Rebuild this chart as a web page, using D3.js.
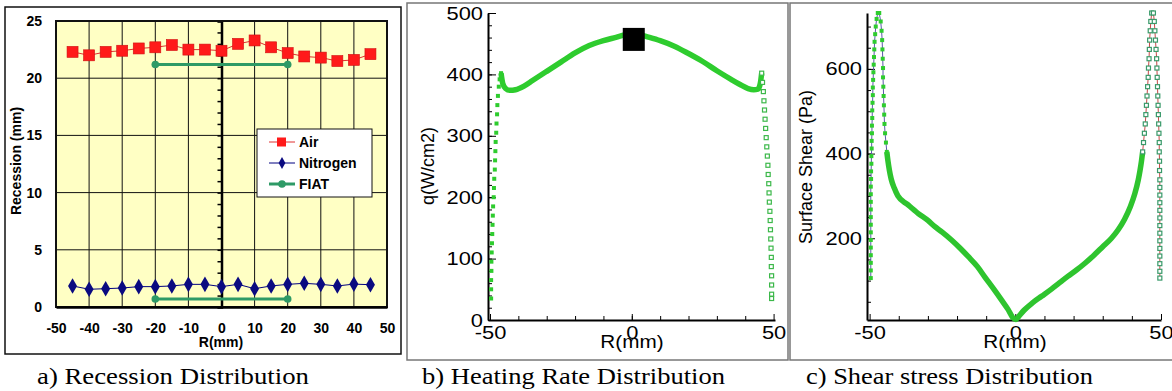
<!DOCTYPE html>
<html>
<head>
<meta charset="utf-8">
<script src="https://cdn.jsdelivr.net/npm/d3@7"></script>
<style>
  body { margin: 0; background: #fff; }
  svg { display: block; }
</style>
</head>
<body>
<svg></svg>
<script>
// ---- panel a: recession ----
const radius = [-45, -40, -35, -30, -25, -20, -15, -10, -5, 0, 5, 10, 15, 20, 25, 30, 35, 40, 45];
const airRecession = [22.3, 22.0, 22.3, 22.4, 22.6, 22.7, 22.9, 22.5, 22.5, 22.4, 23.0, 23.3, 22.7, 22.2, 21.9, 21.8, 21.5, 21.6, 22.1];
const nitrogenRecession = [1.84, 1.55, 1.6, 1.66, 1.78, 1.78, 1.84, 1.98, 1.98, 1.78, 1.98, 1.6, 1.84, 1.98, 2.07, 1.98, 1.84, 2.0, 1.95];
const fiatRadius = [-20, 20];
const fiatTop = [21.2, 21.2];
const fiatBottom = [0.7, 0.7];
const recessionTicks = [0, 5, 10, 15, 20, 25];
const radiusTicks = [-50, -40, -30, -20, -10, 0, 10, 20, 30, 40, 50];

// ---- panel b: heating rate [R mm, q W/cm2] ----
const heatLeftSpike = [[-49.6,35],[-49.6,50],[-49.6,65],[-49.5,80],[-49.5,95],[-49.4,110],[-49.3,125],[-49.2,140],[-49.1,155],[-49.0,170],[-48.9,185],[-48.7,200],[-48.6,215],[-48.5,230],[-48.3,245],[-48.2,260],[-48.1,275],[-48.0,290],[-47.8,305],[-47.7,320],[-47.5,335],[-47.4,350],[-47.2,365],[-46.9,380],[-46.6,392],[-46.1,402]];
const heatCurve = [[-46.1,402],[-45.5,385],[-44.5,377],[-43,374],[-41,375],[-38,381],[-35,390],[-30,405],[-25,420],[-20,435],[-15,447],[-10,455],[-5,461],[-2,465],[0,468],[2,466],[5,462],[10,455],[15,446],[20,434],[25,421],[30,406],[35,392],[38,384],[41,377],[43,375],[44.5,376],[45.3,385],[45.8,402]];
const heatRightSpike = [[45.8,402],[46.1,387],[46.4,372],[46.6,357],[46.8,342],[47.0,327],[47.2,312],[47.4,297],[47.6,282],[47.8,267],[48.0,252],[48.1,237],[48.3,222],[48.4,207],[48.5,192],[48.7,177],[48.8,162],[48.9,147],[49.0,132],[49.1,117],[49.2,102],[49.2,87],[49.3,72],[49.3,57],[49.3,42],[49.3,35]];
const heatMeasured = [[0.7, 457]];

// ---- panel c: surface shear [R mm, tau Pa] ----
const shearLeftSpike = [[-49.6,106],[-49.6,124],[-49.6,142],[-49.6,160],[-49.6,178],[-49.6,196],[-49.6,214],[-49.6,232],[-49.6,250],[-49.6,268],[-49.6,286],[-49.6,304],[-49.6,322],[-49.5,340],[-49.5,358],[-49.4,376],[-49.4,394],[-49.3,412],[-49.3,430],[-49.2,448],[-49.2,466],[-49.1,484],[-49.1,502],[-49.0,520],[-48.9,538],[-48.9,556],[-48.8,574],[-48.7,592],[-48.6,610],[-48.5,628],[-48.4,646],[-48.3,664],[-48.1,682],[-47.9,700],[-47.6,718],[-47.2,732],[-46.7,732],[-46.2,712],[-45.9,690],[-45.7,668],[-45.6,646],[-45.5,624],[-45.4,602],[-45.4,580],[-45.3,558],[-45.2,536],[-45.1,514],[-45.0,492],[-44.9,470],[-44.7,448],[-44.4,426],[-44.1,404]];
const shearCurve = [[-44.1,404],[-43.7,382],[-43.2,360],[-42.6,340],[-41.5,318],[-40.3,300],[-37,280],[-33.4,259],[-30,242],[-27.7,228],[-25,214],[-21.9,196],[-19,177],[-16.2,157],[-13,133],[-10.5,109],[-7.5,81],[-4.7,54],[-2.5,32],[-0.8,12],[0.2,8],[1,14],[3,30],[6,48],[9,63],[12.4,80],[15,94],[18,110],[21,125],[23.9,141],[27,160],[30,180],[33,200],[35.3,220],[37.5,245],[39.5,275],[41,305],[42.2,338],[42.8,360],[43.3,382],[43.7,404]];
const shearRightSpike = [[43.7,404],[44.0,426],[44.3,448],[44.6,470],[44.8,492],[45.0,514],[45.2,536],[45.4,558],[45.6,580],[45.7,602],[45.9,624],[46.0,646],[46.1,668],[46.3,690],[46.5,712],[46.8,732],[47.4,732],[47.7,712],[47.9,690],[48.1,668],[48.3,646],[48.5,624],[48.6,602],[48.7,580],[48.8,558],[48.9,536],[49.0,514],[49.1,492],[49.2,470],[49.3,448],[49.4,426],[49.4,404],[49.5,382],[49.5,360],[49.6,338],[49.6,320],[49.6,302],[49.6,284],[49.6,266],[49.6,248],[49.6,230],[49.6,212],[49.6,194],[49.6,176],[49.6,158],[49.6,140],[49.6,122],[49.6,106]];

const width = 1172, height = 391;
const svg = d3.select("svg").attr("width", width).attr("height", height)
  .style("font-family", "'Liberation Sans', Arial, sans-serif");

// the source image is a bit wider than tall, so its text looks stretched
function stretch(sel, k) {
  sel.each(function() {
    let w = this.getComputedTextLength();
    d3.select(this).attr("textLength", w * k).attr("lengthAdjust", "spacingAndGlyphs");
  });
}

// panel frames
svg.append("rect").attr("x", 5).attr("y", 7).attr("width", 396).attr("height", 347)
  .attr("fill", "none").attr("stroke", "#111").attr("stroke-width", 1.5);
svg.append("rect").attr("x", 407).attr("y", 3).attr("width", 381).attr("height", 357)
  .attr("fill", "none").attr("stroke", "#777").attr("stroke-width", 1.5);
svg.append("rect").attr("x", 790).attr("y", 3).attr("width", 390).attr("height", 357)
  .attr("fill", "none").attr("stroke", "#777").attr("stroke-width", 1.5);

// captions
const captions = [["a) Recession Distribution", 37, 272], ["b) Heating Rate Distribution", 422, 303], ["c) Shear stress Distribution", 806, 287]];
svg.selectAll("text.caption").data(captions).enter().append("text")
  .attr("class", "caption")
  .attr("x", d => d[1]).attr("y", 384)
  .attr("textLength", d => d[2]).attr("lengthAdjust", "spacingAndGlyphs")
  .style("font-family", "'Liberation Serif', 'Times New Roman', serif")
  .style("font-size", "23px")
  .text(d => d[0]);

const plain = d => String(d);

// ================= panel a =================
let xa = d3.scaleLinear().domain([-50, 50]).range([56, 387]);
let ya = d3.scaleLinear().domain([0, 25]).range([307, 21]);
let ga = svg.append("g");

ga.append("rect").attr("x", 56).attr("y", 21).attr("width", 331).attr("height", 286).attr("fill", "#ffffc4");

// grid
ga.selectAll("line.vgrid").data(radiusTicks.filter(d => d > -50 && d < 50 && d != 0)).enter().append("line")
  .attr("x1", d => xa(d)).attr("x2", d => xa(d)).attr("y1", 21).attr("y2", 307)
  .attr("stroke", "#111").attr("stroke-width", 1);
ga.selectAll("line.hgrid").data(recessionTicks.filter(d => d > 0 && d < 25)).enter().append("line")
  .attr("x1", 56).attr("x2", 387).attr("y1", d => ya(d)).attr("y2", d => ya(d))
  .attr("stroke", "#111").attr("stroke-width", 1);

// vertical axis at R = 0 with minor ticks
ga.append("g").attr("transform", `translate(${xa(0)},0)`)
  .call(d3.axisLeft(ya).ticks(25).tickSize(4).tickFormat(""))
  .call(g => g.select(".domain").attr("stroke-width", 2.5))
  .call(g => g.selectAll(".tick line").attr("stroke-width", 1.5));

ga.append("rect").attr("x", 56).attr("y", 21).attr("width", 331).attr("height", 286)
  .attr("fill", "none").attr("stroke", "#111").attr("stroke-width", 2);

ga.append("g").attr("transform", "translate(56,0)")
  .call(d3.axisLeft(ya).tickValues(recessionTicks).tickSize(0).tickPadding(14).tickFormat(plain))
  .call(g => g.select(".domain").remove())
  .call(g => g.selectAll("text").style("font-size", "14px").style("font-weight", "bold"));
ga.append("g").attr("transform", "translate(0,307)")
  .call(d3.axisBottom(xa).tickValues(radiusTicks).tickSize(0).tickPadding(16).tickFormat(plain))
  .call(g => g.select(".domain").attr("stroke-width", 2.5))
  .call(g => g.selectAll("text").style("font-size", "14px").style("font-weight", "bold"));

ga.append("text").attr("x", 221).attr("y", 347).attr("text-anchor", "middle")
  .style("font-size", "14px").style("font-weight", "bold").text("R(mm)");
ga.append("text").attr("transform", "translate(21,161) rotate(-90)").attr("text-anchor", "middle")
  .style("font-size", "14px").style("font-weight", "bold").text("Recession (mm)");

const lineA = d3.line().x(d => xa(d[0])).y(d => ya(d[1]));
const airPts = radius.map((r, i) => [r, airRecession[i]]);
const nitPts = radius.map((r, i) => [r, nitrogenRecession[i]]);
const fiatTopPts = fiatRadius.map((r, i) => [r, fiatTop[i]]);
const fiatBotPts = fiatRadius.map((r, i) => [r, fiatBottom[i]]);

ga.append("path").attr("d", lineA(airPts)).attr("fill", "none").attr("stroke", "#e03030").attr("stroke-width", 1);
ga.append("path").attr("d", lineA(nitPts)).attr("fill", "none").attr("stroke", "#000080").attr("stroke-width", 1);
[fiatTopPts, fiatBotPts].forEach(pts => {
  ga.append("path").attr("d", lineA(pts)).attr("fill", "none").attr("stroke", "#2e9a66").attr("stroke-width", 3);
  ga.selectAll(null).data(pts).enter().append("circle")
    .attr("cx", d => xa(d[0])).attr("cy", d => ya(d[1])).attr("r", 3.8).attr("fill", "#2e9a66");
});
ga.selectAll("rect.air").data(airPts).enter().append("rect").attr("class", "air")
  .attr("x", d => xa(d[0]) - 5.5).attr("y", d => ya(d[1]) - 5.5).attr("width", 11).attr("height", 11)
  .attr("fill", "#ff1a1a").attr("stroke", "#d01010").attr("stroke-width", 0.6);
const diamond = d3.symbol().type(d3.symbolDiamond).size(70);
ga.selectAll("path.nit").data(nitPts).enter().append("path").attr("class", "nit")
  .attr("transform", d => `translate(${xa(d[0])},${ya(d[1])})`).attr("d", diamond).attr("fill", "#0a0a80");

// legend
let lg = ga.append("g").attr("transform", "translate(257,129)");
lg.append("rect").attr("width", 115).attr("height", 68).attr("fill", "#fff").attr("stroke", "#111").attr("stroke-width", 1);
const legendRows = [["Air", "#e03030", 13], ["Nitrogen", "#000080", 34], ["FIAT", "#2e9a66", 55]];
legendRows.forEach((row, i) => {
  lg.append("line").attr("x1", 12).attr("x2", 38).attr("y1", row[2]).attr("y2", row[2])
    .attr("stroke", row[1]).attr("stroke-width", i == 2 ? 3 : 1);
  if (i == 0) lg.append("rect").attr("x", 20).attr("y", row[2] - 4.5).attr("width", 9).attr("height", 9).attr("fill", "#ff1a1a");
  if (i == 1) lg.append("path").attr("transform", `translate(25,${row[2]})`).attr("d", d3.symbol().type(d3.symbolDiamond).size(40)).attr("fill", "#0a0a80");
  if (i == 2) lg.append("circle").attr("cx", 25).attr("cy", row[2]).attr("r", 3.8).attr("fill", "#2e9a66");
  lg.append("text").attr("x", 42).attr("y", row[2] + 5).style("font-size", "14px").style("font-weight", "bold").text(row[0]);
});

// ================= panel b =================
let xb = d3.scaleLinear().domain([-50.7, 50.5]).range([488, 775]);
let yb = d3.scaleLinear().domain([0, 500]).range([320, 13]);
let gb = svg.append("g");

gb.append("g").attr("transform", "translate(488,0)")
  .call(d3.axisLeft(yb).ticks(25).tickSize(-4).tickFormat(""))
  .call(g => g.select(".domain").remove());
gb.append("g").attr("transform", "translate(488,0)")
  .call(d3.axisLeft(yb).tickValues([0, 100, 200, 300, 400, 500]).tickSizeInner(-8).tickSizeOuter(0).tickPadding(5).tickFormat(plain))
  .call(g => g.select(".domain").attr("stroke-width", 2))
  .call(g => g.selectAll("text").style("font-size", "19px").call(stretch, 1.15));
gb.append("g").attr("transform", "translate(0,320)")
  .call(d3.axisTop(xb).tickValues(d3.range(-40, 50, 10)).tickSize(4).tickFormat(""))
  .call(g => g.select(".domain").remove());
gb.append("g").attr("transform", "translate(0,320)")
  .call(d3.axisBottom(xb).tickValues([-50, 0, 50]).tickSizeInner(-6).tickSizeOuter(0).tickPadding(6).tickFormat(plain))
  .call(g => g.select(".domain").attr("stroke-width", 2))
  .call(g => g.selectAll("text").style("font-size", "19px").call(stretch, 1.15));
gb.append("text").attr("x", 632).attr("y", 348).attr("text-anchor", "middle").style("font-size", "18px").text("R(mm)").call(stretch, 1.15);
gb.append("text").attr("transform", "translate(434,166) rotate(-90)").attr("text-anchor", "middle").style("font-size", "18px").text("q(W/cm2)");

const lineB = d3.line().x(d => xb(d[0])).y(d => yb(d[1])).curve(d3.curveMonotoneX);
gb.append("path").attr("d", lineB(heatCurve)).attr("fill", "none").attr("stroke", "#2ecc2e").attr("stroke-width", 5.5);
gb.selectAll("rect.hl").data(heatLeftSpike).enter().append("rect").attr("class", "hl")
  .attr("x", d => xb(d[0]) - 2).attr("y", d => yb(d[1]) - 2).attr("width", 4).attr("height", 4).attr("fill", "#2ecc2e");
gb.selectAll("rect.hr").data(heatRightSpike).enter().append("rect").attr("class", "hr")
  .attr("x", d => xb(d[0]) - 2).attr("y", d => yb(d[1]) - 2).attr("width", 4).attr("height", 4)
  .attr("fill", "#fff").attr("stroke", "#3cb84a").attr("stroke-width", 1.2);
gb.selectAll("rect.hm").data(heatMeasured).enter().append("rect").attr("class", "hm")
  .attr("x", d => xb(d[0]) - 11).attr("y", d => yb(d[1]) - 11.5).attr("width", 22).attr("height", 23).attr("fill", "#000");

// ================= panel c =================
let xc = d3.scaleLinear().domain([-50.9, 50]).range([867, 1161]);
let yc = d3.scaleLinear().domain([7, 732]).range([320, 13]);
let gc = svg.append("g");

gc.append("g").attr("transform", "translate(867,0)")
  .call(d3.axisLeft(yc).tickValues(d3.range(50, 732, 50)).tickSize(-4).tickFormat(""))
  .call(g => g.select(".domain").remove());
gc.append("g").attr("transform", "translate(867,0)")
  .call(d3.axisLeft(yc).tickValues([200, 400, 600]).tickSizeInner(-8).tickSizeOuter(0).tickPadding(5).tickFormat(plain))
  .call(g => g.select(".domain").attr("stroke-width", 2))
  .call(g => g.selectAll("text").style("font-size", "19px").call(stretch, 1.15));
gc.append("g").attr("transform", "translate(0,320)")
  .call(d3.axisTop(xc).tickValues(d3.range(-40, 50, 10)).tickSize(4).tickFormat(""))
  .call(g => g.select(".domain").remove());
gc.append("g").attr("transform", "translate(0,320)")
  .call(d3.axisBottom(xc).tickValues([-50, 0, 50]).tickSizeInner(-6).tickSizeOuter(0).tickPadding(6).tickFormat(plain))
  .call(g => g.select(".domain").attr("stroke-width", 2))
  .call(g => g.selectAll("text").style("font-size", "19px").call(stretch, 1.15));
gc.append("text").attr("x", 1015).attr("y", 348).attr("text-anchor", "middle").style("font-size", "18px").text("R(mm)").call(stretch, 1.15);
gc.append("text").attr("transform", "translate(812,167) rotate(-90)").attr("text-anchor", "middle").style("font-size", "18px").text("Surface Shear (Pa)");

const lineC = d3.line().x(d => xc(d[0])).y(d => yc(d[1]));
gc.append("path").attr("d", lineC(shearLeftSpike)).attr("fill", "none").attr("stroke", "#5a5aa8").attr("stroke-width", 1);
gc.append("path").attr("d", lineC(shearRightSpike)).attr("fill", "none").attr("stroke", "#c84848").attr("stroke-width", 1);
gc.append("path").attr("d", lineC.curve(d3.curveMonotoneX)(shearCurve)).attr("fill", "none").attr("stroke", "#2ec42e").attr("stroke-width", 5.5);
gc.selectAll("rect.sl").data(shearLeftSpike).enter().append("rect").attr("class", "sl")
  .attr("x", d => xc(d[0]) - 2).attr("y", d => yc(d[1]) - 2).attr("width", 4).attr("height", 4).attr("fill", "#2ecc2e");
gc.selectAll("rect.sr").data(shearRightSpike).enter().append("rect").attr("class", "sr")
  .attr("x", d => xc(d[0]) - 2).attr("y", d => yc(d[1]) - 2).attr("width", 4).attr("height", 4)
  .attr("fill", "#fff").attr("stroke", "#3a9a6a").attr("stroke-width", 1.2);
</script>
</body>
</html>
